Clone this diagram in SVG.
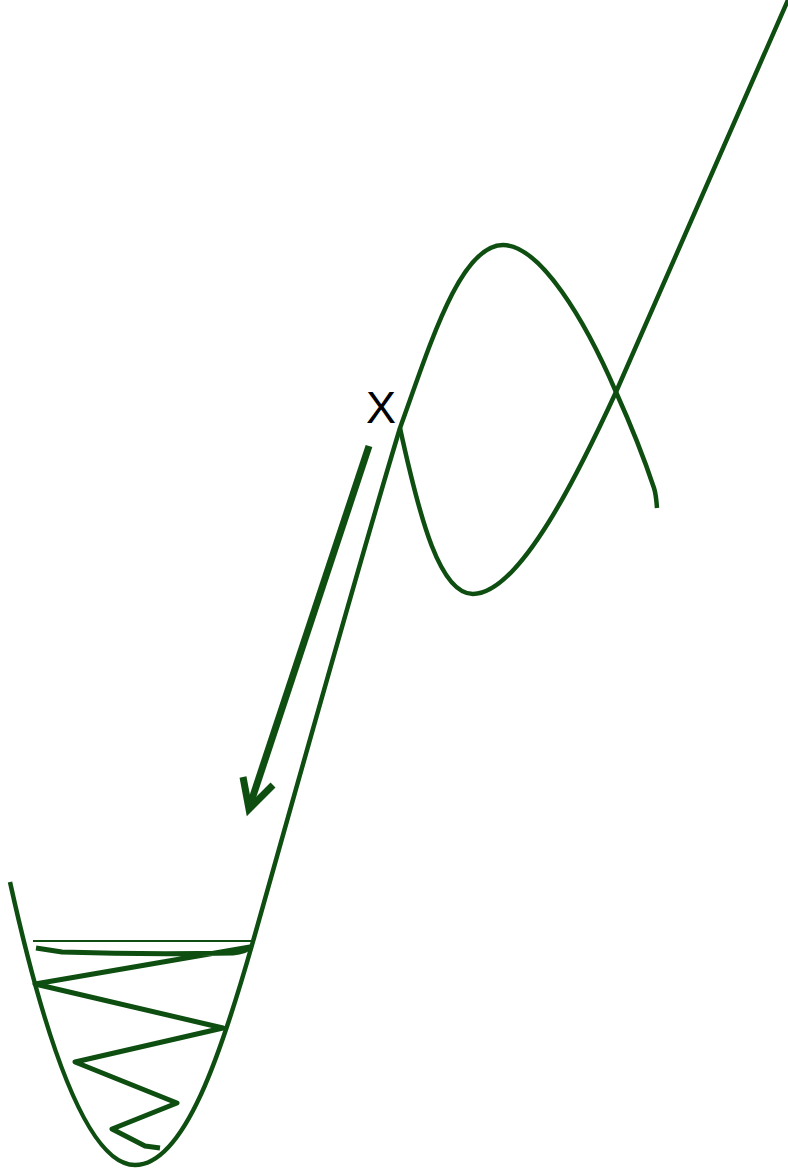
<svg xmlns="http://www.w3.org/2000/svg" width="788" height="1172" viewBox="0 0 788 1172">
<style>
.c{fill:none;stroke:#0e4f11;stroke-width:4.5;stroke-linecap:butt;stroke-linejoin:round}
.z{fill:none;stroke:#0e4f11;stroke-width:5;stroke-linejoin:round}
.t{fill:none;stroke:#0e4f11;stroke-width:2}
.a{fill:none;stroke:#0e4f11;stroke-width:7;stroke-linejoin:miter}
.lbl{font-family:"Liberation Sans",Arial,sans-serif;font-size:45px;fill:#000}
</style>
<rect width="788" height="1172" fill="#fff"/>
<g id="curve">
<path class="c" d="M10,882 Q72.5,1165 135,1165 C185,1165 222,1050 252,945 C300,775 360,560 400,428 C430,345 460,245 503,245 C540,245 585,320 616,392 C630,423 644,458 654,488 Q656,494 657,508"/>
<path class="c" d="M400,428 C420,520 440,594 473,594 C520,594 580,470 616,392 L788,0"/>
</g>
<g id="zigzag">
<line class="t" x1="33" y1="941" x2="252" y2="941"/>
<path class="z" d="M36,948 L62,952 Q150,955 233,953 Q246,952 250,947 L35,984 L223,1028 L75,1062 L177,1103 L112,1129 L145,1146 L160,1148"/>
</g>
<g id="arrow">
<path class="a" d="M369,446 L251,802"/>
<path class="a" d="M243,777 L249,809 L273,785"/>
</g>
<text class="lbl" x="381" y="423" text-anchor="middle">X</text>
</svg>
